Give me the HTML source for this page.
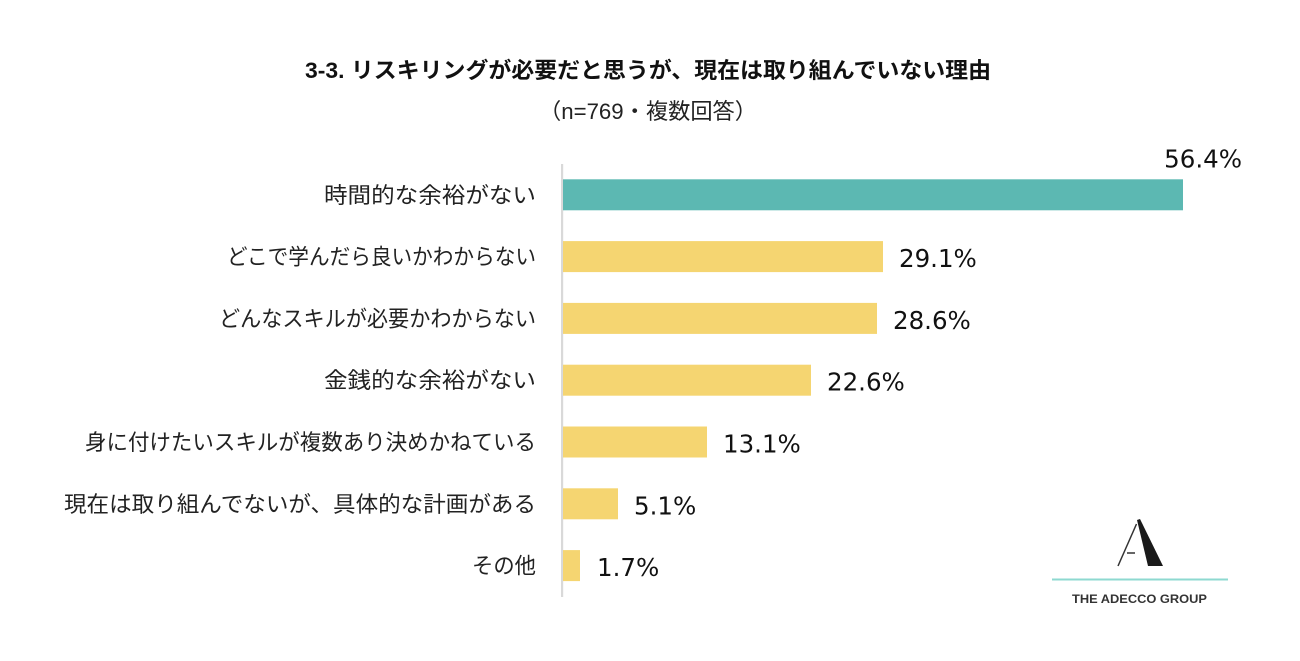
<!DOCTYPE html>
<html>
<head>
<meta charset="utf-8">
<style>
  html, body { margin: 0; padding: 0; background: #ffffff; }
  body { width: 1300px; height: 661px; overflow: hidden; }
  svg { display: block; }
  .cjk { font-family: "Liberation Sans", "Noto Sans CJK JP", sans-serif; }
  .val { font-family: "DejaVu Sans", "Liberation Sans", sans-serif; }
</style>
</head>
<body>
<svg width="1300" height="661" viewBox="0 0 1300 661" xmlns="http://www.w3.org/2000/svg">
  <rect x="0" y="0" width="1300" height="661" fill="#ffffff"/>

  <!-- Title -->
  <text class="cjk" x="648" y="78" text-anchor="middle" font-size="22" font-weight="bold" fill="#111" textLength="686" lengthAdjust="spacingAndGlyphs">3-3. リスキリングが必要だと思うが、現在は取り組んでいない理由</text>
  <text class="cjk" x="648" y="119" text-anchor="middle" font-size="22" fill="#222" textLength="218" lengthAdjust="spacingAndGlyphs">（n=769・複数回答）</text>

  <!-- Axis line -->
  <rect x="561" y="164" width="2.2" height="433" fill="#d9d9d9"/>

  <!-- Bars -->
  <rect x="563" y="179.3" width="620" height="31" fill="#5cb8b2"/>
  <rect x="563" y="241.1" width="320" height="31" fill="#f5d571"/>
  <rect x="563" y="302.9" width="314" height="31" fill="#f5d571"/>
  <rect x="563" y="364.7" width="248" height="31" fill="#f5d571"/>
  <rect x="563" y="426.5" width="144" height="31" fill="#f5d571"/>
  <rect x="563" y="488.3" width="55" height="31" fill="#f5d571"/>
  <rect x="563" y="550.1" width="17" height="31" fill="#f5d571"/>

  <!-- Category labels -->
  <g class="cjk" font-size="22" fill="#222" text-anchor="end">
    <text x="536" y="202.8" textLength="212" lengthAdjust="spacingAndGlyphs">時間的な余裕がない</text>
    <text x="536" y="264.6" textLength="309" lengthAdjust="spacingAndGlyphs">どこで学んだら良いかわからない</text>
    <text x="536" y="326.4" textLength="317" lengthAdjust="spacingAndGlyphs">どんなスキルが必要かわからない</text>
    <text x="536" y="388.2" textLength="212" lengthAdjust="spacingAndGlyphs">金銭的な余裕がない</text>
    <text x="536" y="450.0" textLength="451" lengthAdjust="spacingAndGlyphs">身に付けたいスキルが複数あり決めかねている</text>
    <text x="536" y="511.8" textLength="472" lengthAdjust="spacingAndGlyphs">現在は取り組んでないが、具体的な計画がある</text>
    <text x="536" y="573.6" textLength="64" lengthAdjust="spacingAndGlyphs">その他</text>
  </g>

  <!-- Value labels -->
  <g class="val" font-size="24.5" fill="#111">
    <text x="1242" y="167.5" text-anchor="end">56.4%</text>
    <text x="899" y="267.1">29.1%</text>
    <text x="893" y="328.9">28.6%</text>
    <text x="827" y="390.7">22.6%</text>
    <text x="723" y="452.5">13.1%</text>
    <text x="634" y="514.3">5.1%</text>
    <text x="597" y="576.1">1.7%</text>
  </g>

  <!-- Logo -->
  <polygon points="1137,520 1140,519 1163,566 1148,566" fill="#1a1a1a"/>
  <line x1="1136.5" y1="524" x2="1118" y2="566" stroke="#333" stroke-width="1.5"/>
  <line x1="1127" y1="553" x2="1135" y2="553" stroke="#333" stroke-width="1.5"/>
  <rect x="1052" y="578.5" width="176" height="2" fill="#8ed9d0"/>
  <text x="1072" y="603" font-family="Liberation Sans, sans-serif" font-size="12" font-weight="bold" fill="#333" textLength="135" lengthAdjust="spacingAndGlyphs">THE ADECCO GROUP</text>
</svg>
</body>
</html>
